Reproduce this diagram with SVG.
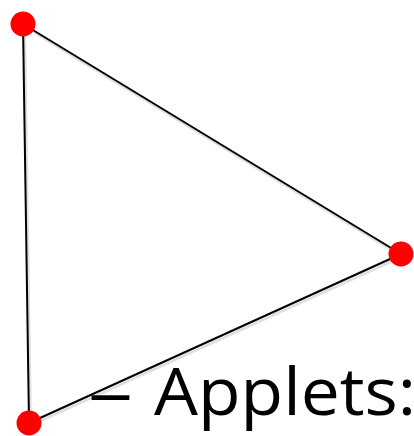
<svg xmlns="http://www.w3.org/2000/svg" width="414" height="436" viewBox="0 0 414 436">
<style>
.edge{stroke:#000;stroke-width:2;fill:none;stroke-linecap:round}
.shadow{stroke:#000;stroke-opacity:0.12;stroke-width:3;fill:none}
.dot{fill:#ff0000}
.lbl{font-family:"Open Sans","Liberation Sans",sans-serif;font-size:65px;fill:#000}
</style>
<rect width="414" height="436" fill="#fff"/>
<g id="connectors">
<g transform="translate(1.5,2.5)">
<line class="shadow" x1="23" y1="24" x2="401" y2="254"/>
<line class="shadow" x1="401" y1="254" x2="29" y2="423"/>
<line class="shadow" x1="23" y1="24" x2="29" y2="423"/>
</g>
<line class="edge" x1="23" y1="24" x2="401" y2="254"/>
<line class="edge" x1="401" y1="254" x2="29" y2="423"/>
<line class="edge" x1="23" y1="24" x2="29" y2="423"/>
</g>
<g id="n1"><circle class="dot" cx="23" cy="24" r="12.5"/></g>
<g id="n2"><circle class="dot" cx="401" cy="254" r="12.5"/></g>
<g id="n3"><circle class="dot" cx="29" cy="423" r="12.5"/></g>
<g id="label">
<text class="lbl" x="88" y="415" textLength="45" lengthAdjust="spacingAndGlyphs">–</text>
<text class="lbl" x="154" y="415" textLength="262" lengthAdjust="spacingAndGlyphs">Applets:</text>
</g>
</svg>
